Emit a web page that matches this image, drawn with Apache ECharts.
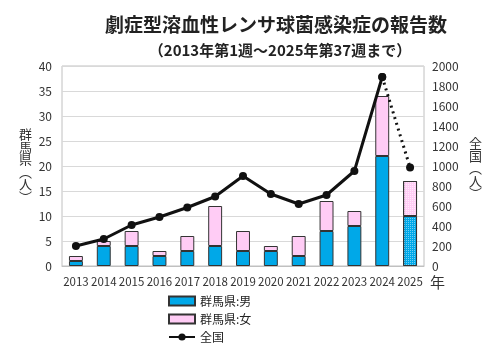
<!DOCTYPE html>
<html><head><meta charset="utf-8">
<script src="https://cdn.jsdelivr.net/npm/echarts@6/dist/echarts.min.js"></script>
<style>html,body{margin:0;padding:0;background:#fff}#c{width:499px;height:352px}</style>
</head><body><div id="c"></div>
<script>
const years = ['2013','2014','2015','2016','2017','2018','2019','2020','2021','2022','2023','2024','2025'];
const male = [1,4,4,2,3,4,3,3,2,7,8,22,10];
const female = [1,1,3,1,3,8,4,1,4,6,3,12,7];
const national = [200,270,410,490,585,695,900,720,620,710,950,1890,985];
const leftTicks = {min:0,max:40,interval:5};
const rightTicks = {min:0,max:2000,interval:200};

const font = '"Noto Sans CJK JP","Noto Sans",sans-serif';
const last = years.length - 1;
const decal = {symbol:'rect', symbolSize:1, dashArrayX:[1,1], dashArrayY:[1,1], color:'rgba(255,255,255,0.45)'};
const maleData = male.map((v,i)=> i===last ? {value:v, itemStyle:{decal:decal}} : v);
const femaleData = female.map((v,i)=> i===last ? {value:v, itemStyle:{decal:Object.assign({},decal,{color:'rgba(255,255,255,0.6)'})}} : v);
const solidLine = national.map((v,i)=> i===last ? '-' : v);
const dotLine = national.map((v,i)=> i>=last-1 ? v : '-');

const legendBase = {orient:'vertical', left:163, itemWidth:26, itemHeight:9,
  textStyle:{fontSize:12, color:'#222', fontFamily:font}};

const chart = echarts.init(document.getElementById('c'));
chart.setOption({
  animation:false,
  aria:{enabled:false, decal:{show:false}},
  textStyle:{fontFamily:font},
  title:[
    {text:'劇症型溶血性レンサ球菌感染症の報告数', left:271, top:10, textAlign:'center',
     textStyle:{fontSize:19, fontWeight:'bold', color:'#222', fontFamily:font}},
    {text:'（2013年第1週～2025年第37週まで）', left:275, top:38, textAlign:'center',
     textStyle:{fontSize:15, fontWeight:'bold', color:'#222', fontFamily:font}}
  ],
  grid:{left:62, right:75, top:66, bottom:86, show:true, borderColor:'#c0c0c0', borderWidth:1},
  legend:[
    Object.assign({top:290, data:[{name:'群馬県:男', icon:'rect'}]}, legendBase),
    Object.assign({top:308, data:[{name:'群馬県:女', icon:'rect'}]}, legendBase),
    Object.assign({top:326, data:['全国']}, legendBase)
  ],
  xAxis:{
    type:'category', data:years,
    axisLine:{show:true, lineStyle:{color:'#c0c0c0'}}, axisTick:{show:false},
    axisLabel:{fontSize:11.5, color:'#333', margin:10, interval:0},
    name:'年', nameLocation:'end', nameGap:6,
    nameTextStyle:{fontSize:15, color:'#333', verticalAlign:'top', padding:[9,0,0,0]}
  },
  yAxis:[
    {type:'value', min:leftTicks.min, max:leftTicks.max, interval:leftTicks.interval,
     axisLine:{show:false}, axisTick:{show:false},
     axisLabel:{fontSize:12, color:'#333', margin:10},
     splitLine:{lineStyle:{color:'#d9d9d9'}}},
    {type:'value', min:rightTicks.min, max:rightTicks.max, interval:rightTicks.interval,
     axisLine:{show:false}, axisTick:{show:false},
     axisLabel:{fontSize:12, color:'#333', margin:8, formatter:(v)=>String(v)},
     splitLine:{show:false}}
  ],
  graphic:[
    {type:'text', left:19, top:128, style:{text:'群\n馬\n県\n︵\n人\n︶', fontSize:13, lineHeight:12.5, fill:'#333', fontFamily:font}},
    {type:'text', left:469, top:137, style:{text:'全\n国\n︵\n人\n︶', fontSize:13, lineHeight:12.5, fill:'#333', fontFamily:font}}
  ],
  series:[
    {name:'群馬県:男', type:'bar', stack:'g', data:maleData, barWidth:'50%',
     itemStyle:{color:'#00a8e8', borderColor:'#333', borderWidth:1}},
    {name:'群馬県:女', type:'bar', stack:'g', data:femaleData, barWidth:'50%',
     itemStyle:{color:'#ffccf5', borderColor:'#333', borderWidth:1}},
    {name:'全国', type:'line', yAxisIndex:1, data:solidLine, symbol:'circle', symbolSize:8,
     lineStyle:{color:'#111', width:3}, itemStyle:{color:'#111'}, z:5},
    {name:'全国(暫定)', type:'line', yAxisIndex:1, data:dotLine, symbol:'circle', symbolSize:8,
     lineStyle:{color:'#111', width:3, type:[2,4]}, itemStyle:{color:'#111'}, z:5}
  ]
});
</script></body></html>
